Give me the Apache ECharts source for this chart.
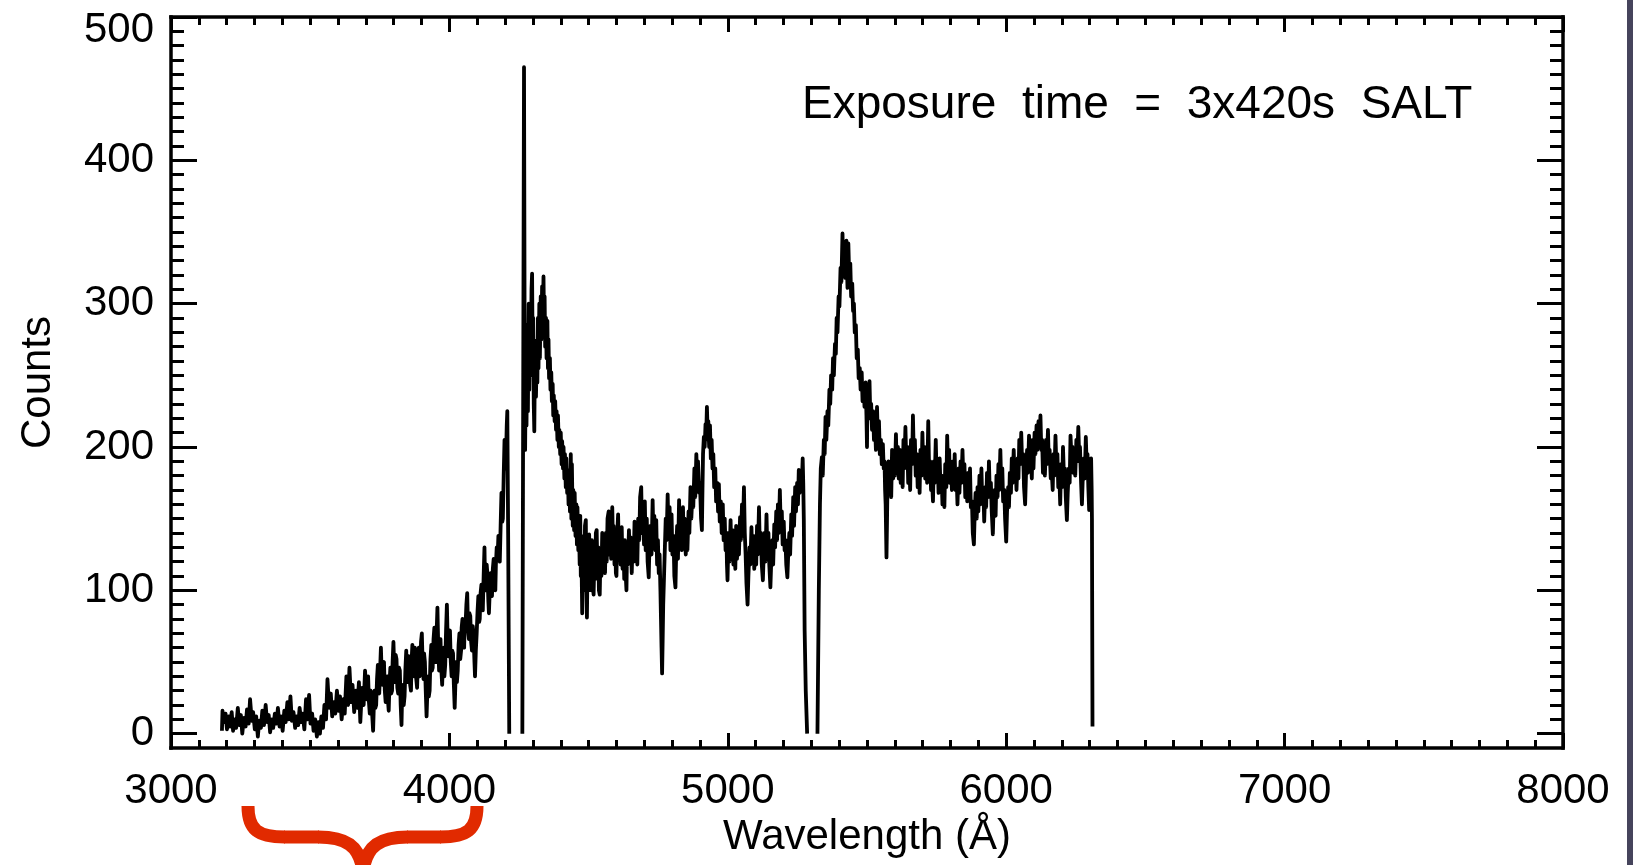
<!DOCTYPE html>
<html>
<head>
<meta charset="utf-8">
<script src="https://cdn.jsdelivr.net/npm/echarts@6/dist/echarts.min.js"></script>
<style>
html,body{margin:0;padding:0;background:#fff;}
#chart{width:1633px;height:865px;}
</style>
</head>
<body>
<div id="chart"></div>
<script>
// Wavelength axis (Angstrom) tick labels and counts tick labels
const xMajorTicks = [3000, 4000, 5000, 6000, 7000, 8000];
const yMajorTicks = [0, 100, 200, 300, 400, 500];
const annotation = 'Exposure  time  =  3x420s  SALT';

// Spectrum segments [wavelength, counts]
const segmentBlue = [
[3183,2],[3185,16],[3190,8],[3196,14],[3201,3],[3207,12],[3212,5],[3218,15],[3223,2],[3229,10],
[3234,4],[3240,18],[3245,6],[3251,13],[3256,0],[3262,11],[3268,5],[3273,17],[3279,7],[3284,24],
[3290,9],[3295,15],[3301,3],[3306,12],[3312,-2],[3317,9],[3323,4],[3328,16],[3334,6],[3340,20],
[3345,8],[3351,13],[3356,1],[3362,10],[3367,4],[3373,14],[3379,7],[3384,18],[3390,5],[3395,12],
[3401,2],[3407,16],[3412,8],[3418,22],[3423,10],[3429,26],[3434,9],[3440,15],[3446,4],[3451,12],
[3457,6],[3462,18],[3468,8],[3473,14],[3479,3],[3485,24],[3490,10],[3496,27],[3501,7],[3507,14],
[3512,2],[3518,10],[3524,-2],[3529,8],[3535,0],[3540,12],[3546,4],[3551,20],[3557,10],[3562,38],
[3568,18],[3574,28],[3579,12],[3585,22],[3590,14],[3596,30],[3602,16],[3607,26],[3613,10],[3619,24],
[3624,14],[3630,40],[3636,20],[3641,46],[3647,22],[3652,34],[3658,15],[3664,30],[3669,18],[3675,36],
[3680,8],[3686,32],[3692,20],[3697,44],
[3703,24],[3706,36],[3708,40],[3711,22],[3714,14],[3717,30],[3720,28],[3723,12],[3726,2],[3729,22],
[3731,30],[3734,18],[3737,20],[3740,38],[3743,48],[3745,30],[3748,28],[3751,44],[3754,60],[3757,40],
[3760,34],[3762,48],[3765,50],[3768,30],[3771,22],[3774,38],[3777,40],[3779,24],[3782,16],[3785,36],
[3788,46],[3791,28],[3794,30],[3796,50],[3799,64],[3802,44],[3805,36],[3807,55],[3810,52],[3813,32],
[3816,28],[3819,46],[3822,44],[3825,20],[3828,6],[3830,25],[3833,34],[3836,20],[3839,26],[3842,45],
[3845,58],[3847,40],[3850,36],[3853,54],[3856,52],[3859,34],[3862,30],[3864,50],[3867,62],[3870,44],
[3873,40],[3876,60],[3879,56],[3881,38],[3884,32],[3887,52],[3890,60],[3893,40],[3896,44],[3898,64],
[3901,70],[3904,48],[3907,38],[3909,56],[3912,50],[3915,30],[3918,12],[3921,30],[3924,40],[3926,26],
[3929,30],[3932,52],[3935,62],[3937,44],[3940,46],[3943,66],[3946,74],[3949,55],[3952,50],[3954,70],
[3957,88],[3960,60],[3963,44],[3965,62],[3968,66],[3971,45],[3974,34],[3977,52],[3980,60],[3982,40],
[3985,48],[3988,72],[3991,90],[3994,64],[3997,54],[3999,70],[4002,72],[4005,50],[4008,40],[4010,58],
[4013,56],[4016,34],[4019,18],[4022,38],[4025,50],[4027,36],[4030,44],[4033,62],[4036,70],[4039,52],
[4042,58],[4044,74],[4047,80],[4050,62],[4053,60],[4055,80],[4058,76],[4061,90],[4064,98],[4067,72],
[4070,66],[4072,84],[4075,82],[4078,64],[4081,58],[4084,75],[4087,68],[4090,50],[4092,40],[4095,58],
[4098,70],[4101,85],[4104,96],[4107,78],[4109,80],[4112,98],[4115,104],[4118,90],[4120,86],[4123,110],
[4126,130],[4128,105],[4131,100],[4134,118],[4137,110],[4140,92],[4142,84],[4145,100],[4148,112],[4151,98],
[4153,96],[4156,115],[4159,122],[4162,105],[4165,100],[4167,118],[4170,130],[4173,122],[4176,138],[4178,125],
[4181,120],[4184,145],[4187,168],[4190,148],[4192,150],[4195,180],[4198,205],[4201,185],[4203,190],[4206,215],
[4208,225],[4211,140],[4215,0]
];

const segmentMiddle = [
[4262,0],[4268,465],[4270,300],[4272,198],[4275,270],[4277,215],[4280,285],[4282,225],[4285,300],[4287,240],
[4290,295],[4292,250],[4295,310],[4297,321],[4299,265],[4301,290],[4303,230],[4305,211],[4307,260],[4309,274],
[4311,235],[4314,270],[4316,245],[4318,290],[4320,255],[4323,300],[4325,262],[4328,305],[4330,275],[4333,312],
[4335,280],[4338,319],[4340,285],[4342,305],[4344,270],[4347,290],[4349,262],[4352,288],[4354,255],[4356,275],
[4358,248],[4361,262],[4363,240],[4366,252],[4368,232],[4371,244],[4373,222],[4375,236],[4378,218],[4380,232],
[4383,212],[4385,225],[4388,205],[4390,222],[4393,200],[4395,212],[4398,195],[4400,210],[4403,188],[4405,204],
[4408,185],[4410,200],[4413,178],[4415,195],[4418,172],[4420,192],[4423,168],[4425,184],[4428,160],[4430,182],
[4433,155],[4436,195],[4438,150],[4440,188],[4443,145],[4445,170],[4448,142],[4450,168],[4453,138],[4456,160],
[4458,132],[4460,158],[4463,128],[4465,150],[4468,118],[4470,152],[4472,110],[4474,130],[4477,84],[4479,115],
[4481,100],[4483,138],[4485,112],[4487,145],[4490,149],[4492,105],[4494,81],[4496,115],[4498,130],[4500,100],
[4502,139],[4505,108],[4507,128],[4510,100],[4512,135],[4515,105],[4518,97],[4521,125],[4524,108],[4526,140],
[4529,142],[4532,110],[4535,130],[4537,100],[4540,97],[4543,128],[4546,110],[4549,140],[4552,118],[4555,135],
[4559,112],[4562,140],[4565,120],[4568,150],[4572,155],[4575,125],[4578,145],[4581,122],[4585,158],[4588,128],
[4590,145],[4593,118],[4596,135],[4598,112],[4600,110],[4603,140],[4606,153],[4609,122],[4612,140],[4615,118],
[4619,144],[4622,115],[4625,135],[4628,108],[4630,135],[4633,112],[4636,100],[4638,128],[4641,118],[4645,142],
[4648,120],[4651,137],[4655,112],[4658,135],[4662,120],[4665,148],[4668,125],[4671,145],[4675,118],[4678,150],
[4682,135],[4685,165],[4689,172],[4692,140],[4696,160],[4699,132],[4702,162],[4705,128],[4709,150],[4712,120],
[4716,109],[4719,135],[4722,145],[4726,125],[4730,163],[4733,135],[4736,152],[4740,128],[4743,149],[4746,118],
[4749,135],[4752,112],[4755,125],[4758,100],[4760,80],[4762,60],[4764,42],[4766,65],[4768,90],[4771,110],
[4774,130],[4777,150],[4780,135],[4784,167],[4787,140],[4791,158],[4794,128],[4798,153],[4801,125],[4805,138],
[4808,110],[4812,102],[4815,130],[4818,145],[4821,122],[4825,163],[4828,135],[4832,155],[4835,128],[4839,158],
[4842,130],[4845,150],[4849,125],[4852,140],[4855,128],[4859,155],[4862,140],[4866,172],[4869,150],[4873,168],
[4876,158],[4880,185],[4883,165],[4887,195],[4890,178],[4893,190],[4897,168],[4900,175],[4904,150],[4907,142],
[4909,170],[4911,195],[4914,207],[4917,200],[4920,216],[4922,205],[4925,228],[4928,208],[4930,218],[4933,200],
[4936,215],[4939,192],[4942,205],[4945,185],[4948,195],[4951,172],[4955,185],[4958,162],[4962,175],[4965,155],
[4968,174],[4971,148],[4975,162],[4978,140],[4982,160],[4985,135],[4989,150],[4992,128],[4995,140],[4997,118],
[4999,107],[5001,125],[5003,140],[5006,120],[5010,149],[5013,125],[5017,142],[5020,118],[5024,135],[5027,115],
[5030,145],[5033,122],[5037,140],[5040,125],[5044,151],[5047,135],[5051,160],[5054,138],[5058,172],[5061,140],
[5064,125],[5067,105],[5071,90],[5074,110],[5078,130],[5081,118],[5085,144],[5088,120],[5092,138],[5095,115],
[5099,130],[5102,118],[5105,145],[5108,125],[5112,158],[5115,130],[5119,140],[5122,118],[5126,107],[5129,125],
[5132,140],[5135,120],[5139,153],[5142,128],[5146,140],[5149,118],[5153,102],[5156,120],[5160,135],[5163,118],
[5167,146],[5170,130],[5174,155],[5177,135],[5180,160],[5183,140],[5187,170],[5190,145],[5194,155],[5197,132],
[5201,148],[5204,128],[5207,135],[5210,118],[5214,109],[5217,125],[5221,140],[5224,125],[5228,153],[5231,138],
[5235,165],[5238,145],[5242,172],[5245,155],[5249,175],[5252,160],[5255,184],[5258,168],[5262,182],[5265,170],
[5269,192],[5271,175],[5273,150],[5276,72],[5280,30],[5285,0]
];

const segmentRed = [
[5322,0],[5327,100],[5331,160],[5334,185],[5338,193],[5341,180],[5345,205],[5348,195],[5351,221],[5354,205],
[5358,225],[5361,215],[5365,240],[5368,230],[5371,250],[5375,240],[5378,262],[5381,250],[5385,272],[5388,265],
[5391,290],[5394,280],[5398,305],[5401,298],[5405,325],[5408,315],[5412,349],[5415,320],[5419,338],[5422,318],
[5426,344],[5428,325],[5430,311],[5433,342],[5436,320],[5440,328],[5443,305],[5447,314],[5450,295],[5453,300],
[5456,280],[5460,285],[5463,262],[5467,268],[5470,248],[5474,255],[5477,240],[5481,252],[5484,232],[5488,242],
[5491,228],[5495,245],[5498,222],[5500,200],[5502,240],[5505,225],[5509,246],[5512,220],[5515,230],[5518,212],
[5522,225],[5525,205],[5529,215],[5532,198],[5536,228],[5539,205],[5543,218],[5546,195],[5550,205],[5553,188],
[5557,202],[5560,185],[5563,190],[5565,170],[5567,160],[5570,123],[5572,150],[5574,180],[5577,190],[5580,170],
[5584,185],[5587,165],[5590,198],[5594,178],[5597,195],[5600,180],[5604,209],[5607,185],[5611,200],[5614,178],
[5618,198],[5621,175],[5624,192],[5628,172],[5631,205],[5634,185],[5638,214],[5641,190],[5645,200],[5648,175],
[5652,190],[5655,170],[5658,205],[5662,188],[5665,222],[5668,195],[5672,205],[5675,180],[5679,195],[5682,172],
[5686,188],[5689,168],[5692,198],[5696,180],[5699,210],[5702,185],[5706,200],[5709,178],[5713,190],[5716,175],
[5720,218],[5723,185],[5727,190],[5730,170],[5733,180],[5737,162],[5740,190],[5743,175],[5747,205],[5750,180],
[5754,190],[5757,168],[5761,192],[5764,172],[5768,180],[5771,160],[5775,170],[5778,158],[5781,188],[5785,172],
[5788,208],[5791,185],[5795,198],[5798,175],[5802,188],[5805,170],[5808,190],[5812,172],[5815,195],[5818,170],
[5822,178],[5825,160],[5829,185],[5832,168],[5836,190],[5839,175],[5843,198],[5846,178],[5850,188],[5853,165],
[5856,180],[5860,162],[5863,182],[5866,165],[5870,185],[5873,158],[5877,162],[5880,140],[5884,132],[5887,155],
[5890,168],[5894,150],[5897,172],[5900,155],[5904,180],[5907,160],[5911,185],[5914,162],[5918,170],[5921,148],
[5925,172],[5928,158],[5931,182],[5935,165],[5938,190],[5941,168],[5945,175],[5948,155],[5952,139],[5955,160],
[5959,170],[5962,152],[5965,180],[5969,165],[5972,188],[5975,170],[5979,198],[5982,175],[5986,185],[5989,162],
[5993,170],[5996,150],[6000,134],[6003,155],[6007,172],[6010,158],[6013,182],[6017,168],[6020,192],[6023,175],
[6027,198],[6030,178],[6034,185],[6037,170],[6041,192],[6044,178],[6047,205],[6051,188],[6054,210],[6057,190],
[6061,195],[6064,172],[6068,160],[6071,180],[6075,198],[6078,182],[6082,208],[6085,188],[6088,195],[6092,178],
[6095,205],[6098,185],[6102,210],[6105,195],[6109,215],[6112,198],[6116,218],[6119,200],[6123,222],[6126,198],
[6129,205],[6132,182],[6136,195],[6139,180],[6143,205],[6146,188],[6150,212],[6153,190],[6156,198],[6160,178],
[6163,185],[6167,170],[6170,195],[6173,180],[6177,208],[6180,188],[6184,195],[6187,172],[6191,178],[6194,160],
[6197,188],[6201,172],[6204,200],[6207,182],[6211,185],[6214,165],[6218,149],[6221,168],[6225,185],[6228,175],
[6231,208],[6235,190],[6238,200],[6241,182],[6245,195],[6248,180],[6252,205],[6255,190],[6259,214],[6262,195],
[6265,200],[6269,175],[6272,160],[6275,178],[6279,192],[6282,178],[6286,207],[6289,188],[6292,195],[6295,172],
[6298,156],[6300,175],[6302,185],[6305,192],[6307,170],[6308,150],[6310,5]
];

const FONT = 'Liberation Sans';
const BLACK = '#000';
const yMinorTicks = [];
for (let v = 10; v < 500; v += 10) { if (v % 100 !== 0) yMinorTicks.push(v); }

function xAxisDef(pos, withLabels) {
  return {
    type: 'value', position: pos, min: 3000, max: 8000, interval: 1000,
    name: withLabels ? 'Wavelength (Å)' : '',
    nameLocation: 'middle', nameGap: 67,
    nameTextStyle: { fontSize: 42, color: BLACK, fontFamily: FONT },
    axisLine: { show: true, onZero: false, lineStyle: { color: BLACK, width: 3.5, cap: 'square' } },
    axisTick: { show: true, inside: true, length: 15, lineStyle: { color: BLACK, width: 3 } },
    minorTick: { show: true, splitNumber: 10, length: 8, lineStyle: { color: BLACK, width: 3 } },
    axisLabel: { show: withLabels, margin: 22, fontSize: 42, color: BLACK, fontFamily: FONT,
      formatter: function (v) { return String(v); } },
    splitLine: { show: false }, minorSplitLine: { show: false }
  };
}
function yMajorDef(pos, withLabels) {
  return {
    type: 'value', position: pos, min: -10, max: 500,
    name: withLabels ? 'Counts' : '',
    nameLocation: 'middle', nameGap: 112,
    nameTextStyle: { fontSize: 42, color: BLACK, fontFamily: FONT },
    axisLine: { show: true, onZero: false, lineStyle: { color: BLACK, width: 3.5, cap: 'square' } },
    axisTick: { show: true, inside: true, length: 26, customValues: yMajorTicks, lineStyle: { color: BLACK, width: 3 } },
    axisLabel: { show: withLabels, margin: 17, customValues: yMajorTicks, color: BLACK, fontFamily: FONT, fontSize: 42,
      formatter: function (v) { return v === 500 ? '{top|500}' : '{n|' + v + '}'; },
      rich: { top: { fontSize: 42, fontFamily: FONT, color: BLACK, padding: [26, 0, 0, 0] },
              n: { fontSize: 42, fontFamily: FONT, color: BLACK } } },
    splitLine: { show: false }
  };
}
function yMinorDef(pos) {
  return {
    type: 'value', position: pos, min: -10, max: 500,
    axisLine: { show: false, onZero: false },
    axisTick: { show: true, inside: true, length: 13, customValues: yMinorTicks, lineStyle: { color: BLACK, width: 3 } },
    axisLabel: { show: false }, splitLine: { show: false }
  };
}
function lineSeries(data) {
  return {
    type: 'line', data: data, xAxisIndex: 0, yAxisIndex: 0,
    showSymbol: false, symbol: 'none', connectNulls: false, clip: true,
    lineStyle: { color: BLACK, width: 3.8, join: 'round' },
    emphasis: { disabled: true }
  };
}

const RED = '#e12a00';
const braceStyle = { fill: null, stroke: RED, lineWidth: 13 };
function bez(p) {
  return { type: 'bezierCurve', silent: true, z: 100,
    shape: { x1: p[0], y1: p[1], cpx1: p[2], cpy1: p[3], cpx2: p[4], cpy2: p[5], x2: p[6], y2: p[7] },
    style: braceStyle };
}
function seg(p) {
  return { type: 'line', silent: true, z: 100, shape: { x1: p[0], y1: p[1], x2: p[2], y2: p[3] }, style: braceStyle };
}

const chart = echarts.init(document.getElementById('chart'), null, { renderer: 'canvas' });
chart.setOption({
  animation: false,
  backgroundColor: '#ffffff',
  textStyle: { fontFamily: FONT },
  title: { text: annotation, left: 797, top: 77,
    textStyle: { fontSize: 46, fontWeight: 'normal', color: BLACK, fontFamily: FONT } },
  grid: { left: 171, right: 70, top: 17, bottom: 117, containLabel: false },
  xAxis: [xAxisDef('bottom', true), xAxisDef('top', false)],
  yAxis: [yMajorDef('left', true), yMinorDef('left'), yMajorDef('right', false), yMinorDef('right')],
  series: [lineSeries(segmentBlue), lineSeries(segmentMiddle), lineSeries(segmentRed)],
  graphic: [
    { type: 'rect', silent: true, shape: { x: 1627, y: 0, width: 6, height: 865 },
      style: { fill: '#46445c' } },
    bez([248, 806, 248, 830, 258, 837, 285, 837]),
    seg([284, 837, 319, 837]),
    bez([318, 837, 345, 837, 360, 845, 363, 872]),
    bez([477, 806, 477, 830, 467, 837, 440, 837]),
    seg([441, 837, 407, 837]),
    bez([408, 837, 381, 837, 366, 845, 363, 872])
  ]
});
</script>
</body>
</html>
